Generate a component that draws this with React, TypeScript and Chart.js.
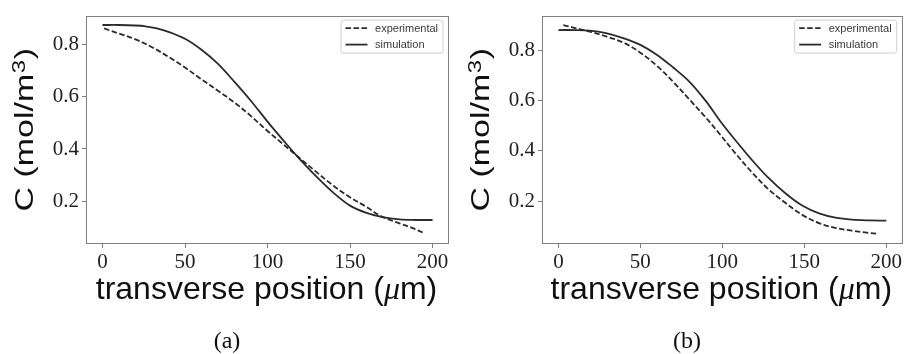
import React, { useEffect, useRef } from "react";
import { Chart, registerables } from "chart.js";

Chart.register(...registerables);

// ---------- data ----------
const xTickValues = [0, 50, 100, 150, 200];
const yTickValues = [0.2, 0.4, 0.6, 0.8];
const seriesLabels = ["experimental", "simulation"];
const panelCaptions = ["(a)", "(b)"];

// panel (a)
const expAX = [1, 10, 20, 30, 40, 50, 60, 70, 80, 90, 100, 109, 118, 129, 140, 150, 160, 169, 180, 188, 195];
const expAY = [0.862, 0.842, 0.82, 0.79, 0.753, 0.712, 0.667, 0.623, 0.578, 0.526, 0.469, 0.421, 0.373, 0.315, 0.259, 0.215, 0.178, 0.142, 0.115, 0.097, 0.077];
const simAX = [0, 10, 20, 26, 33, 40, 50, 60, 70, 80, 90, 100, 110, 118, 130, 140, 150, 160, 169, 180, 190, 200];
const simAY = [0.875, 0.875, 0.873, 0.87, 0.862, 0.849, 0.822, 0.78, 0.726, 0.657, 0.584, 0.505, 0.43, 0.372, 0.292, 0.232, 0.183, 0.155, 0.14, 0.13, 0.128, 0.128];

// panel (b)
const expBX = [3, 9, 19, 29, 40, 50, 60, 70, 80, 90, 98, 108, 118, 128, 139, 149, 159, 169, 179, 187, 194];
const expBY = [0.901, 0.891, 0.875, 0.856, 0.83, 0.791, 0.739, 0.675, 0.604, 0.532, 0.47, 0.39, 0.315, 0.248, 0.19, 0.144, 0.112, 0.093, 0.082, 0.075, 0.07];
const simBX = [0, 10, 19, 29, 40, 50, 60, 70, 80, 90, 99, 108, 118, 128, 139, 149, 159, 169, 179, 190, 200];
const simBY = [0.881, 0.881, 0.879, 0.869, 0.848, 0.822, 0.783, 0.732, 0.675, 0.598, 0.516, 0.442, 0.364, 0.293, 0.228, 0.181, 0.151, 0.134, 0.126, 0.123, 0.122];

const yTitleMain = "C (mol/m";
const yTitleSup = "3";
const yTitleEnd = ")";
const xTitleParts = ["transverse position (", "\u03bc", "m)"];

// ---------- layout ----------
const panels = [
  {
    exp: [expAX, expAY], sim: [simAX, simAY],
    yMin: 0.036, yMax: 0.911,
    left: 0, yAxisW: 86, padTop: 11, padRight: 3, captionX: 227,
  },
  {
    exp: [expBX, expBY], sim: [simBX, simBY],
    yMin: 0.029, yMax: 0.9385,
    left: 452, yAxisW: 90, padTop: 10, padRight: 0, captionX: 235,
  },
];

const CANVAS_W = 452;
const CANVAS_H = 354;
const PLOT_BOTTOM = 244;
const LINE_COLOR = "#2b2b2b";
const FRAME_COLOR = "#808080";
const SANS = "'Liberation Sans', Arial, sans-serif";
const SERIF = "'Liberation Serif', 'Times New Roman', serif";

const toPoints = (xs: number[], ys: number[]) => xs.map((x, i) => ({ x, y: ys[i] }));

function makeDecorPlugin(caption: string, captionX: number) {
  return {
    id: "decor",
    afterDraw(chart: any) {
      const { ctx, chartArea: a } = chart;
      ctx.save();
      // frame
      ctx.strokeStyle = FRAME_COLOR;
      ctx.lineWidth = 1;
      ctx.strokeRect(Math.round(a.left) + 0.5, Math.round(a.top) + 0.5, Math.round(a.right - a.left) - 1, Math.round(a.bottom - a.top) - 1);

      // legend
      const ds = chart.data.datasets;
      ctx.font = `11px ${SANS}`;
      const textW = Math.max(...ds.map((d: any) => ctx.measureText(d.label).width));
      const boxW = 4 + 22 + 8 + textW + 5;
      const boxH = 33;
      const bx = a.right - 6 - boxW;
      const by = a.top + 4.5;
      ctx.beginPath();
      const r = 2.5;
      ctx.moveTo(bx + r, by);
      ctx.arcTo(bx + boxW, by, bx + boxW, by + boxH, r);
      ctx.arcTo(bx + boxW, by + boxH, bx, by + boxH, r);
      ctx.arcTo(bx, by + boxH, bx, by, r);
      ctx.arcTo(bx, by, bx + boxW, by, r);
      ctx.closePath();
      ctx.fillStyle = "rgba(255,255,255,0.85)";
      ctx.fill();
      ctx.strokeStyle = "#d0d0d0";
      ctx.lineWidth = 1;
      ctx.stroke();
      ds.forEach((d: any, i: number) => {
        const ry = by + 8 + i * 16.5;
        ctx.beginPath();
        ctx.setLineDash(d.borderDash || []);
        ctx.strokeStyle = d.borderColor;
        ctx.lineWidth = d.borderWidth;
        ctx.moveTo(bx + 4.5, ry);
        ctx.lineTo(bx + 26.5, ry);
        ctx.stroke();
        ctx.setLineDash([]);
        ctx.fillStyle = "#3a3a3a";
        ctx.textBaseline = "middle";
        ctx.textAlign = "left";
        ctx.fillText(d.label, bx + 34, ry + 0.5);
      });

      // y title (rotated)
      ctx.save();
      ctx.translate(a.left - 52.7, (a.top + a.bottom) / 2);
      ctx.rotate(-Math.PI / 2);
      ctx.scale(1, 0.74);
      ctx.fillStyle = "#111";
      ctx.textBaseline = "alphabetic";
      ctx.textAlign = "left";
      const mainFont = `34px ${SANS}`;
      const supFont = `24px ${SANS}`;
      ctx.font = mainFont;
      const w1 = ctx.measureText(yTitleMain).width;
      const w3 = ctx.measureText(yTitleEnd).width;
      ctx.font = supFont;
      const w2 = ctx.measureText(yTitleSup).width;
      let sx = -(w1 + w2 + w3 + 1) / 2;
      ctx.font = mainFont;
      ctx.fillText(yTitleMain, sx, 0);
      sx += w1 + 0.5;
      ctx.font = supFont;
      ctx.fillText(yTitleSup, sx, -11.5);
      sx += w2 + 0.5;
      ctx.font = mainFont;
      ctx.fillText(yTitleEnd, sx, 0);
      ctx.restore();

      // x title (mixed fonts)
      const fonts = [`32px ${SANS}`, `italic 32px ${SERIF}`, `32px ${SANS}`];
      const widths = xTitleParts.map((t, i) => {
        ctx.font = fonts[i];
        return ctx.measureText(t).width;
      });
      let tx = (a.left + a.right) / 2 - 1 - widths.reduce((s, w) => s + w, 0) / 2;
      ctx.fillStyle = "#111";
      ctx.textBaseline = "alphabetic";
      ctx.textAlign = "left";
      xTitleParts.forEach((t, i) => {
        ctx.font = fonts[i];
        ctx.fillText(t, tx, 298.7);
        tx += widths[i];
      });

      // caption
      ctx.font = `24px ${SERIF}`;
      ctx.textAlign = "center";
      ctx.fillStyle = "#111";
      ctx.fillText(caption, captionX, 347.5);
      ctx.restore();
    },
  };
}

function Panel({ idx }: { idx: number }) {
  const ref = useRef<HTMLCanvasElement>(null);
  const p = panels[idx];
  useEffect(() => {
    const tickFont = { family: SERIF, size: 21 };
    const chart = new Chart(ref.current as HTMLCanvasElement, {
      type: "line",
      data: {
        datasets: [
          {
            label: seriesLabels[0],
            data: toPoints(p.exp[0], p.exp[1]),
            borderColor: LINE_COLOR,
            borderWidth: 1.8,
            borderDash: [5.5, 2.5],
            pointRadius: 0,
            fill: false,
            tension: 0.35,
          },
          {
            label: seriesLabels[1],
            data: toPoints(p.sim[0], p.sim[1]),
            borderColor: LINE_COLOR,
            borderWidth: 1.8,
            pointRadius: 0,
            fill: false,
            tension: 0.35,
          },
        ],
      },
      options: {
        animation: false,
        responsive: false,
        devicePixelRatio: 1,
        events: [],
        layout: { padding: { left: 0, top: p.padTop, right: p.padRight, bottom: 0 } },
        plugins: { legend: { display: false }, tooltip: { enabled: false }, title: { display: false } },
        scales: {
          x: {
            type: "linear",
            min: -10,
            max: 210,
            afterBuildTicks: (s: any) => {
              s.ticks = xTickValues.map((v) => ({ value: v }));
            },
            afterFit: (s: any) => {
              s.height = CANVAS_H - PLOT_BOTTOM;
            },
            border: { display: false },
            grid: { display: true, drawOnChartArea: false, drawTicks: true, tickLength: 4, color: FRAME_COLOR, lineWidth: 1 },
            ticks: { font: tickFont, color: "#222", padding: 2, maxRotation: 0, autoSkip: false, callback: (v: any) => String(v) },
          },
          y: {
            type: "linear",
            min: p.yMin,
            max: p.yMax,
            afterBuildTicks: (s: any) => {
              s.ticks = yTickValues.map((v) => ({ value: v }));
            },
            afterFit: (s: any) => {
              s.width = p.yAxisW;
            },
            border: { display: false },
            grid: { display: true, drawOnChartArea: false, drawTicks: true, tickLength: 4, color: FRAME_COLOR, lineWidth: 1 },
            ticks: { font: tickFont, color: "#222", padding: 3, autoSkip: false, callback: (v: any) => Number(v).toFixed(1) },
          },
        },
      },
      plugins: [makeDecorPlugin(panelCaptions[idx], p.captionX)],
    } as any);
    return () => chart.destroy();
  }, [idx]);
  return (
    <canvas
      ref={ref}
      width={CANVAS_W}
      height={CANVAS_H}
      style={{ position: "absolute", left: p.left, top: 0, width: CANVAS_W, height: CANVAS_H }}
    />
  );
}

export default function App() {
  return (
    <div style={{ position: "absolute", left: 0, top: 0, width: 904, height: 354, background: "#fff", overflow: "hidden" }}>
      <Panel idx={0} />
      <Panel idx={1} />
    </div>
  );
}
